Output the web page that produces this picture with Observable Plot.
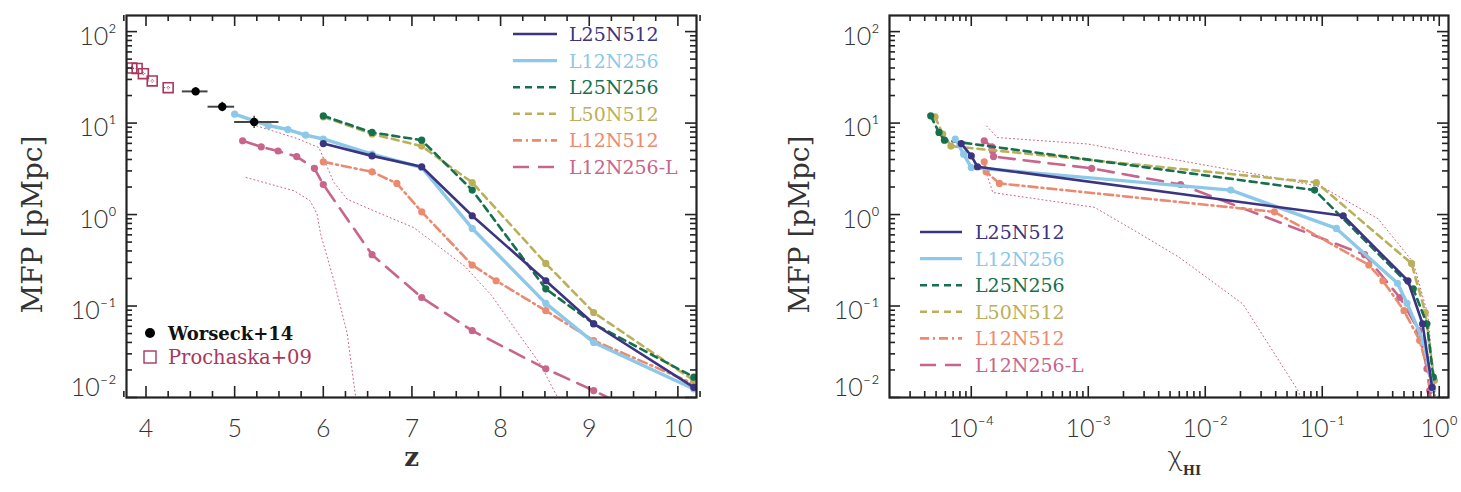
<!DOCTYPE html>
<html>
<head>
<meta charset="utf-8">
<script src="https://cdn.jsdelivr.net/npm/d3@7"></script>
<script src="https://cdn.jsdelivr.net/npm/@observablehq/plot@0.6"></script>
<style>
  body { margin: 0; background: #fff; }
  #wrap { position: relative; width: 1461px; height: 492px; overflow: hidden; }
  .panel { position: absolute; top: 0; }
  .overlay { position: absolute; top: 0; left: 0; pointer-events: none; }
</style>
</head>
<body>
<div id="wrap"></div>
<script>
// ---------- mean free path vs redshift (left panel) ----------
const zL25N512   = [6.0, 6.55, 7.11, 7.68, 8.51, 9.05, 10.18];
const mfpL25N512 = [5.97, 4.38, 3.33, 0.97, 0.189, 0.064, 0.0129];
const zL12N256   = [5.0, 5.38, 5.6, 5.8, 6.0, 6.55, 7.11, 7.68, 8.51, 9.05, 10.18];
const mfpL12N256 = [12.5, 9.4, 8.5, 7.4, 6.7, 4.57, 3.27, 0.705, 0.107, 0.040, 0.0124];
const zL25N256   = [6.0, 6.55, 7.11, 7.68, 8.51, 9.05, 10.18];
const mfpL25N256 = [12.0, 7.9, 6.5, 1.85, 0.154, 0.064, 0.0167];
const zL50N512   = [6.0, 6.55, 7.11, 7.68, 8.51, 9.05, 10.18];
const mfpL50N512 = [11.7, 7.6, 5.6, 2.24, 0.292, 0.085, 0.0153];
const zL12N512   = [6.0, 6.55, 6.83, 7.11, 7.68, 7.95, 8.51, 9.05, 10.18];
const mfpL12N512 = [3.77, 2.93, 2.19, 1.07, 0.281, 0.189, 0.089, 0.042, 0.0141];
const zL12N256L   = [5.09, 5.3, 5.49, 5.7, 5.9, 6.0, 6.55, 7.11, 7.68, 8.51, 9.05, 10.18];
const mfpL12N256L = [6.4, 5.5, 4.95, 4.3, 3.2, 2.13, 0.364, 0.124, 0.0538, 0.0206, 0.0119, 0.0035];

// scatter envelopes (thin dotted)
const zEnvUpper   = [5.25, 5.7, 5.95, 6.12, 6.27, 6.57, 7.02, 7.3, 7.6, 7.9, 8.2, 8.45, 8.6, 8.7];
const mfpEnvUpper = [9.3, 6.8, 5.4, 2.24, 1.47, 1.10, 0.72, 0.45, 0.27, 0.13, 0.05, 0.023, 0.012, 0.008];
const zEnvLower   = [5.13, 5.40, 5.67, 5.85, 5.93, 5.97, 6.12, 6.27, 6.36, 6.4];
const mfpEnvLower = [2.54, 2.15, 1.82, 1.42, 1.01, 0.61, 0.19, 0.05, 0.011, 0.007];

// observations
const zWorseck    = [4.56, 4.86, 5.22];
const zLoWorseck  = [4.41, 4.70, 5.00];
const zHiWorseck  = [4.70, 5.00, 5.50];
const mfpWorseck  = [22.2, 15.1, 10.3];
const errWorseck  = [2.3, 1.8, 1.6];
const zProchaska   = [3.84, 3.90, 3.97, 4.07, 4.25];
const mfpProchaska = [40.0, 39.5, 34.7, 28.9, 24.4];
const errProchaska = [2.0, 2.0, 1.8, 1.6, 1.4];

// ---------- mean free path vs neutral fraction (right panel) ----------
const xhiL25N512    = [8.2e-5, 1.0e-4, 1.13e-4, 0.151, 0.54, 0.72, 0.87];
const mfpXhiL25N512 = [5.97, 4.38, 3.33, 0.97, 0.189, 0.064, 0.0129];
const xhiL12N256    = [7.3e-5, 8.6e-5, 1.0e-4, 0.0165, 0.132, 0.44, 0.53, 0.74, 0.88];
const mfpXhiL12N256 = [6.7, 4.57, 3.27, 1.85, 0.705, 0.177, 0.107, 0.040, 0.0124];
const xhiL25N256    = [4.5e-5, 5.3e-5, 5.9e-5, 0.086, 0.60, 0.785, 0.89];
const mfpXhiL25N256 = [12.0, 7.9, 6.5, 1.85, 0.154, 0.064, 0.0167];
const xhiL50N512    = [4.9e-5, 5.7e-5, 6.7e-5, 0.089, 0.58, 0.76, 0.91];
const mfpXhiL50N512 = [11.7, 7.6, 5.6, 2.24, 0.292, 0.085, 0.0153];
const xhiL12N512    = [1.29e-4, 1.34e-4, 1.74e-4, 0.039, 0.25, 0.33, 0.5, 0.68, 0.86];
const mfpXhiL12N512 = [3.77, 2.93, 2.19, 1.07, 0.281, 0.189, 0.089, 0.042, 0.0141];
const xhiL12N256L    = [1.29e-4, 1.5e-4, 1.52e-4, 1.55e-4, 1.07e-3, 6.15e-3, 0.23, 0.46, 0.67, 0.785, 0.83, 0.9];
const mfpXhiL12N256L = [6.4, 5.5, 4.95, 4.3, 3.2, 2.13, 0.364, 0.124, 0.0538, 0.0206, 0.0119, 0.0035];
const xhiEnvUpper    = [1.35e-4, 1.67e-4, 1.0e-3, 2.8e-3, 6e-3, 0.03, 0.1, 0.3, 0.6, 0.8, 0.93];
const mfpXhiEnvUpper = [9.3, 6.95, 5.9, 4.6, 3.9, 2.7, 2.0, 0.9, 0.3, 0.08, 0.01];
const xhiEnvLower    = [1.3e-4, 1.53e-4, 1.13e-3, 2.8e-3, 6e-3, 0.021, 0.062, 0.07];
const mfpXhiEnvLower = [3.27, 1.74, 1.2, 0.61, 0.34, 0.105, 0.0119, 0.008];

// ---------- tick values ----------
const zTicks     = [4, 5, 6, 7, 8, 9, 10];
const mfpTicks   = [0.01, 0.1, 1, 10, 100];
const xhiTicks   = [1e-4, 1e-3, 1e-2, 1e-1, 1];

// ---------- styling ----------
const series = [
  {name: "L25N512",   color: "#3b3480", dash: null,       width: 2.6},
  {name: "L12N256",   color: "#8cc8e8", dash: null,       width: 3.4},
  {name: "L25N256",   color: "#16704e", dash: "7,5",      width: 2.6},
  {name: "L50N512",   color: "#bbb05a", dash: "7,5",      width: 2.6},
  {name: "L12N512",   color: "#ec8a70", dash: "9,4,2,4",  width: 2.6},
  {name: "L12N256-L", color: "#c8658a", dash: "16,9",     width: 2.6}
];
const envColor = "#d0607c";
const wine = "#a8385c";
const serif = "'DejaVu Serif', serif";
const sans = "Lato, 'Liberation Sans', sans-serif";

const rows = (xs, ys) => xs.map((x, i) => ({x, y: ys[i]}));
const leftData = {
  "L25N512": rows(zL25N512, mfpL25N512),
  "L12N256": rows(zL12N256, mfpL12N256),
  "L25N256": rows(zL25N256, mfpL25N256),
  "L50N512": rows(zL50N512, mfpL50N512),
  "L12N512": rows(zL12N512, mfpL12N512),
  "L12N256-L": rows(zL12N256L, mfpL12N256L)
};
const rightData = {
  "L25N512": rows(xhiL25N512, mfpXhiL25N512),
  "L12N256": rows(xhiL12N256, mfpXhiL12N256),
  "L25N256": rows(xhiL25N256, mfpXhiL25N256),
  "L50N512": rows(xhiL50N512, mfpXhiL50N512),
  "L12N512": rows(xhiL12N512, mfpXhiL12N512),
  "L12N256-L": rows(xhiL12N256L, mfpXhiL12N256L)
};
const drawOrder = ["L12N256-L", "L12N512", "L50N512", "L25N256", "L12N256", "L25N512"];

const sup = n => String(n).split("").map(c => ({"-": "⁻", "0": "⁰", "1": "¹", "2": "²", "3": "³", "4": "⁴"})[c]).join("");
const pow10 = v => "10" + sup(Math.round(Math.log10(v)));

function logMinor(lo, hi) {
  const out = [];
  for (let e = Math.floor(Math.log10(lo)); e <= Math.ceil(Math.log10(hi)); e++)
    for (let k = 2; k <= 9; k++) { const v = k * 10 ** e; if (v > lo && v < hi) out.push(v); }
  return out;
}

const H = 492, mTop = 15, mBottom = 95;
const frameH = H - mTop - mBottom;
const yDomain = [0.01, 150];

// inward ticks on all four sides, IDL style
function boxTicks(xMajor, xMinor, yMajor, yMinor, frameW) {
  const s = {stroke: "#222", strokeWidth: 1.6};
  return [
    Plot.tickX(xMajor, {x: d => d, insetTop: frameH - 11, ...s}),
    Plot.tickX(xMajor, {x: d => d, insetBottom: frameH - 11, ...s}),
    Plot.tickX(xMinor, {x: d => d, insetTop: frameH - 6, ...s}),
    Plot.tickX(xMinor, {x: d => d, insetBottom: frameH - 6, ...s}),
    Plot.tickY(yMajor, {y: d => d, insetRight: frameW - 11, ...s}),
    Plot.tickY(yMajor, {y: d => d, insetLeft: frameW - 11, ...s}),
    Plot.tickY(yMinor, {y: d => d, insetRight: frameW - 6, ...s}),
    Plot.tickY(yMinor, {y: d => d, insetLeft: frameW - 6, ...s}),
    Plot.frame({stroke: "#222", strokeWidth: 2.2})
  ];
}

function yLabels() {
  const t = {anchor: "left", tickSize: 0, tickPadding: 10, tickFormat: pow10, fontSize: 25,
             fontFamily: sans, fontWeight: 300, fill: "#333", label: null};
  return [
    Plot.axisY(mfpTicks.filter(v => v > 0.01), {...t, dy: 5}),
    Plot.axisY([0.01], {...t, dy: -10})
  ];
}

function yTitle(dx) {
  return Plot.text(["MFP [pMpc]"], {text: d => d, frameAnchor: "left", dx, dy: 18, rotate: -90,
    textAnchor: "middle", lineAnchor: "middle", fontSize: 28, fontFamily: serif, fill: "#333", letterSpacing: 4.5});
}

function seriesMarks(data) {
  const marks = [];
  for (const name of drawOrder) {
    const s = series.find(d => d.name === name);
    marks.push(Plot.line(data[name], {x: "x", y: "y", stroke: s.color, strokeWidth: s.width,
      strokeDasharray: s.dash, clip: true}));
    marks.push(Plot.dot(data[name], {x: "x", y: "y", fill: s.color, r: 3.6, clip: true}));
  }
  return marks;
}

// ---------------- left panel ----------------
const wL = 730, mlL = 126, mrL = 34;
const worseck = zWorseck.map((z, i) => ({z, lo: zLoWorseck[i], hi: zHiWorseck[i], v: mfpWorseck[i], e: errWorseck[i]}));
const prochaska = zProchaska.map((z, i) => ({z, v: mfpProchaska[i], e: errProchaska[i]}));
const zMinor = d3.range(3.75, 10.26, 0.25).filter(v => Math.abs(v - Math.round(v)) > 1e-6);

const left = Plot.plot({
  width: wL, height: H,
  marginLeft: mlL, marginRight: mrL, marginTop: mTop, marginBottom: mBottom,
  style: {background: "transparent", overflow: "visible"},
  x: {domain: [3.78, 10.21]},
  y: {type: "log", domain: yDomain},
  marks: [
    Plot.line(rows(zEnvUpper, mfpEnvUpper), {x: "x", y: "y", stroke: envColor, strokeWidth: 1, strokeDasharray: "1,3", clip: true}),
    Plot.line(rows(zEnvLower, mfpEnvLower), {x: "x", y: "y", stroke: envColor, strokeWidth: 1, strokeDasharray: "1,3", clip: true}),
    ...seriesMarks(leftData),
    // Prochaska+09
    Plot.ruleX(prochaska, {x: "z", y1: d => d.v - d.e, y2: d => d.v + d.e, stroke: wine, strokeWidth: 1, strokeDasharray: "1,1.5"}),
    Plot.ruleY(prochaska, {y: "v", x1: d => d.z - 0.04, x2: d => d.z + 0.04, stroke: wine, strokeWidth: 1, strokeDasharray: "1,1.5"}),
    Plot.dot(prochaska, {x: "z", y: "v", symbol: "square", r: 5.6, stroke: wine, strokeWidth: 1.6, fill: "none"}),
    // Worseck+14
    Plot.ruleY(worseck, {y: "v", x1: "lo", x2: "hi", stroke: "#444", strokeWidth: 2}),
    Plot.ruleX(worseck, {x: "z", y1: d => d.v - d.e, y2: d => d.v + d.e, stroke: "#444", strokeWidth: 1.5}),
    Plot.dot(worseck, {x: "z", y: "v", fill: "#000", r: 4.2}),
    ...boxTicks(zTicks, zMinor, mfpTicks, logMinor(...yDomain), wL - mlL - mrL),
    Plot.axisX(zTicks, {anchor: "bottom", tickSize: 0, tickPadding: 22, fontSize: 25, fontFamily: sans,
      fontWeight: 300, fill: "#333", label: null}),
    ...yLabels(),
    yTitle(-93),
    Plot.text(["z"], {text: d => d, frameAnchor: "bottom", dy: 68, fontSize: 26, fontWeight: "bold",
      fontFamily: serif, fill: "#333"})
  ]
});

// ---------------- right panel ----------------
const wR = 731, mlR = 159, mrR = 13;
const xDomainR = [2e-5, 1.2];
const right = Plot.plot({
  width: wR, height: H,
  marginLeft: mlR, marginRight: mrR, marginTop: mTop, marginBottom: mBottom,
  style: {background: "transparent", overflow: "visible"},
  x: {type: "log", domain: xDomainR},
  y: {type: "log", domain: yDomain},
  marks: [
    Plot.line(rows(xhiEnvUpper, mfpXhiEnvUpper), {x: "x", y: "y", stroke: envColor, strokeWidth: 1, strokeDasharray: "1,3", clip: true}),
    Plot.line(rows(xhiEnvLower, mfpXhiEnvLower), {x: "x", y: "y", stroke: envColor, strokeWidth: 1, strokeDasharray: "1,3", clip: true}),
    ...seriesMarks(rightData),
    ...boxTicks(xhiTicks, logMinor(...xDomainR), mfpTicks, logMinor(...yDomain), wR - mlR - mrR),
    Plot.axisX(xhiTicks, {anchor: "bottom", tickSize: 0, tickPadding: 22, tickFormat: pow10, fontSize: 25,
      fontFamily: sans, fontWeight: 300, fill: "#333", label: null}),
    ...yLabels(),
    yTitle(-89),
    Plot.text(["χ"], {text: d => d, frameAnchor: "bottom", dx: 6, dy: 68, fontSize: 30,
      fontFamily: sans, fontWeight: 300, fill: "#333"}),
    Plot.text(["HI"], {text: d => d, frameAnchor: "bottom", dx: 23, dy: 77, fontSize: 13,
      fontWeight: "bold", fontFamily: serif, fill: "#333"})
  ]
});

const wrap = document.getElementById("wrap");
left.classList.add("panel"); left.style.left = "0px";
right.classList.add("panel"); right.style.left = wL + "px";
wrap.appendChild(left);
wrap.appendChild(right);

// ---------------- legends ----------------
const ns = "http://www.w3.org/2000/svg";
const overlay = document.createElementNS(ns, "svg");
overlay.setAttribute("class", "overlay");
overlay.setAttribute("width", 1461);
overlay.setAttribute("height", 492);
wrap.appendChild(overlay);

function el(tag, attrs, text) {
  const e = document.createElementNS(ns, tag);
  for (const k in attrs) if (attrs[k] != null) e.setAttribute(k, attrs[k]);
  if (text) e.textContent = text;
  overlay.appendChild(e);
  return e;
}

function seriesLegend(x1, x2, tx, y0, dy) {
  series.forEach((s, i) => {
    const y = y0 + i * dy;
    el("line", {x1, x2, y1: y, y2: y, stroke: s.color, "stroke-width": s.width, "stroke-dasharray": s.dash});
    el("text", {x: tx, y, fill: s.color, "font-family": "DejaVu Serif", "font-size": 19,
      "dominant-baseline": "central"}, s.name);
  });
}
seriesLegend(513, 557, 569, 34, 26.6);
seriesLegend(920, 962, 975, 232, 26.6);

el("circle", {cx: 150, cy: 333, r: 5, fill: "#000"});
el("text", {x: 168, y: 333, fill: "#111", "font-family": "DejaVu Serif", "font-size": 18, "font-weight": "bold",
  "dominant-baseline": "central"}, "Worseck+14");
el("rect", {x: 144, y: 351, width: 12, height: 12, fill: "none", stroke: wine, "stroke-width": 1.4});
el("text", {x: 168, y: 357, fill: wine, "font-family": "DejaVu Serif", "font-size": 19.5,
  "dominant-baseline": "central"}, "Prochaska+09");
</script>
</body>
</html>
